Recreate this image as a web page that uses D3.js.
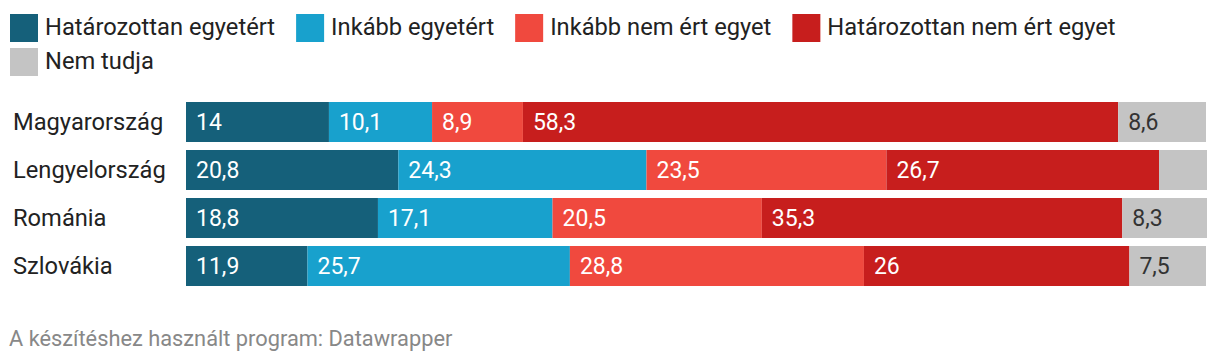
<!DOCTYPE html>
<html>
<head>
<meta charset="utf-8">
<script src="https://cdn.jsdelivr.net/npm/d3@7"></script>
<style>
  body { margin: 0; background: #fff; font-family: Roboto, "Noto Sans", sans-serif; }
</style>
</head>
<body>
<div id="chart"></div>
<script>
// Data
const countries = ["Magyarország", "Lengyelország", "Románia", "Szlovákia"];
const seriesNames = ["Határozottan egyetért", "Inkább egyetért", "Inkább nem ért egyet", "Határozottan nem ért egyet", "Nem tudja"];
const hatarozottanEgyetert = [14, 20.8, 18.8, 11.9];
const inkabbEgyetert = [10.1, 24.3, 17.1, 25.7];
const inkabbNem = [8.9, 23.5, 20.5, 28.8];
const hatarozottanNem = [58.3, 26.7, 35.3, 26];
const nemTudja = [8.6, 4.7, 8.3, 7.5];
const colors = ["#15607a", "#18a1cd", "#f0493e", "#c71e1d", "#c4c4c4"];
const footer = "A készítéshez használt program: Datawrapper";

const width = 1220, height = 364;
const margin = { left: 186, right: 13 };

const svg = d3.select("#chart").append("svg")
    .attr("width", width)
    .attr("height", height);

// Legend (wraps like Datawrapper)
const legend = svg.append("g").attr("class", "legend");
let lx = 10, ly = 14;
seriesNames.forEach((name, i) => {
    const g = legend.append("g");
    const t = g.append("text")
        .attr("x", 35)
        .attr("y", 20.5)
        .attr("font-size", 23.7)
        .attr("fill", "#222")
        .text(name);
    const w = t.node().getComputedTextLength() + 35;
    if (lx + w > width - 10) { lx = 10; ly += 34; }
    g.attr("transform", `translate(${lx},${ly})`);
    g.insert("rect", "text")
        .attr("width", 28)
        .attr("height", 28)
        .attr("fill", colors[i]);
    lx += w + 21;
});

// Stacked data
const rows = countries.map((c, i) => ({
    country: c,
    [seriesNames[0]]: hatarozottanEgyetert[i],
    [seriesNames[1]]: inkabbEgyetert[i],
    [seriesNames[2]]: inkabbNem[i],
    [seriesNames[3]]: hatarozottanNem[i],
    [seriesNames[4]]: nemTudja[i]
}));
const stacked = d3.stack().keys(seriesNames)(rows);

const x = d3.scaleLinear().domain([0, 100]).range([margin.left, width - margin.right]);
const y = d3.scaleBand().domain(countries)
    .range([102, 102 + 48 * countries.length - 8])
    .paddingInner(8 / 48).paddingOuter(0);

// Country labels
svg.append("g").selectAll("text")
    .data(countries)
    .join("text")
    .attr("x", 13)
    .attr("y", d => y(d) + y.bandwidth() / 2)
    .attr("dy", "0.35em")
    .attr("font-size", 23.7)
    .attr("fill", "#222")
    .text(d => d);

// Bars
const layers = svg.append("g").selectAll("g")
    .data(stacked)
    .join("g")
    .attr("fill", (d, i) => colors[i]);

layers.selectAll("rect")
    .data(d => d)
    .join("rect")
    .attr("x", d => x(d[0]))
    .attr("y", d => y(d.data.country))
    .attr("width", d => x(d[1]) - x(d[0]))
    .attr("height", y.bandwidth());

// Value labels (small segments stay unlabeled)
const fmt = v => String(v).replace(".", ",");
stacked.forEach((layer, i) => {
    svg.append("g").selectAll("text")
        .data(layer.filter(d => (d[1] - d[0]) >= 5))
        .join("text")
        .attr("x", d => x(d[0]) + 10)
        .attr("y", d => y(d.data.country) + y.bandwidth() / 2)
        .attr("dy", "0.35em")
        .attr("font-size", 23)
        .attr("fill", i === 4 ? "#333" : "#fff")
        .text(d => fmt(d.data[layer.key]));
});

// Footer
svg.append("text")
    .attr("x", 9)
    .attr("y", 346)
    .attr("font-size", 21.8)
    .attr("fill", "#888")
    .text(footer);
</script>
</body>
</html>
